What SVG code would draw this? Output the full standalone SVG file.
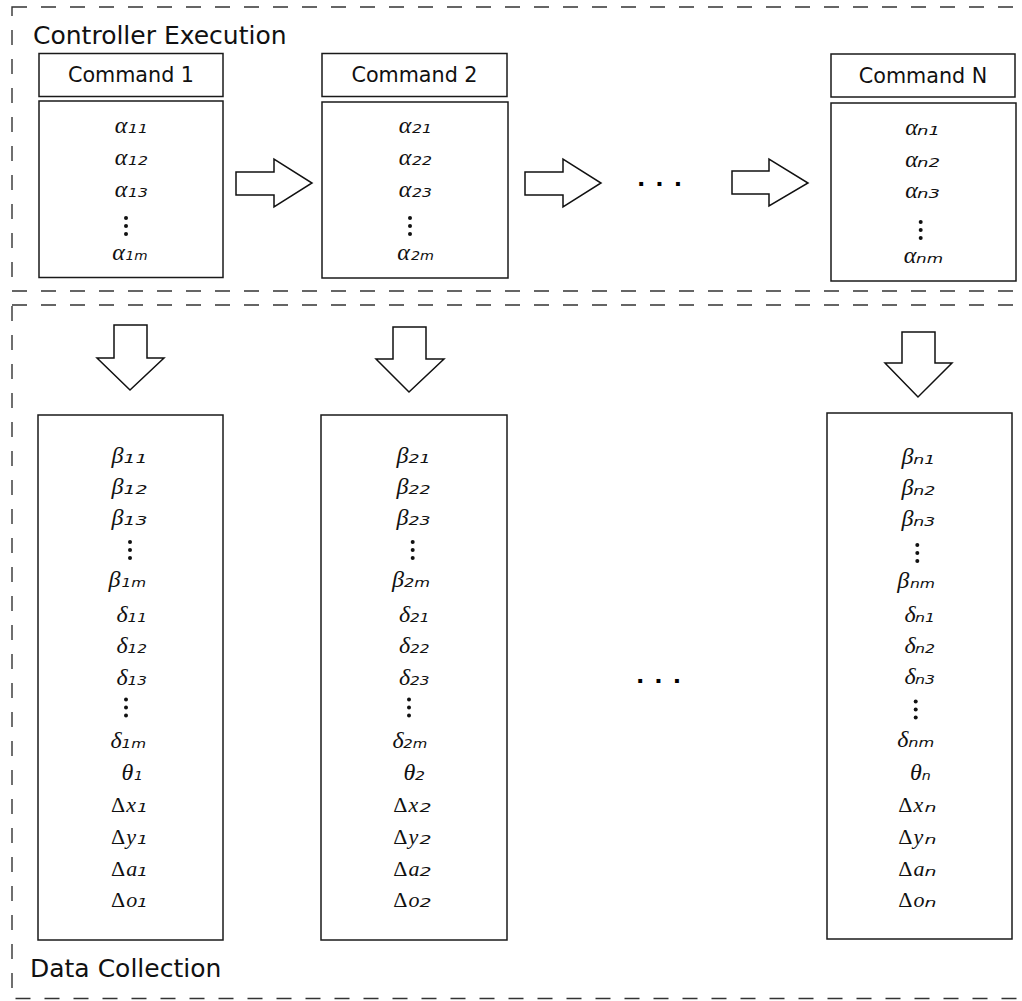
<svg xmlns="http://www.w3.org/2000/svg" xmlns:xlink="http://www.w3.org/1999/xlink" width="1022" height="1001" viewBox="0 0 1022 1001">
  <style>
    .dash { fill: none; stroke: #333; stroke-width: 1.4; stroke-dasharray: 15 14; }
    .box { fill: #fff; stroke: #1a1a1a; stroke-width: 1.5; }
    .arrow { fill: #fff; stroke: #111; stroke-width: 1.5; stroke-linejoin: miter; }
    .title { font-family: "DejaVu Sans", sans-serif; font-size: 25px; fill: #111; }
    .cmd { font-family: "DejaVu Sans", sans-serif; font-size: 20.7px; fill: #111; text-anchor: middle; }
    .g { font-family: "Liberation Serif", serif; font-style: italic; font-size: 24px; fill: #111; text-anchor: middle; }
    .d { font-family: "Liberation Serif", serif; font-style: italic; font-size: 22px; fill: #111; }
    .up { font-style: normal; }
    .s { font-family: "DejaVu Sans", sans-serif; font-style: oblique; font-size: 11.5px; fill: #111; }
    .ell { font-family: "DejaVu Sans", sans-serif; font-weight: bold; font-size: 22px; letter-spacing: 10px; fill: #000; }
  </style>
  <defs>
    <!-- vertical ellipsis -->
    <g id="vd" fill="#111">
      <circle cx="0" cy="-8" r="2"/>
      <circle cx="0" cy="0" r="2"/>
      <circle cx="0" cy="8" r="2"/>
    </g>
  </defs>

  <rect width="1022" height="1001" fill="#fff"/>

  <!-- stage frames -->
  <g id="stage-execution">
    <rect class="dash" x="12" y="7" width="1040" height="284"/>
    <text class="title" x="33" y="44">Controller Execution</text>
  </g>
  <g id="stage-collection">
    <rect class="dash" x="12" y="305" width="1040" height="693.5"/>
    <text class="title" x="30" y="977">Data Collection</text>
  </g>

  <!-- command headers -->
  <g id="cmd1">
    <rect class="box" x="39" y="53.5" width="184" height="43"/>
    <text class="cmd" x="131" y="81.5">Command 1</text>
  </g>
  <g id="cmd2">
    <rect class="box" x="322" y="53.5" width="185" height="43"/>
    <text class="cmd" x="414.5" y="81.5">Command 2</text>
  </g>
  <g id="cmdN">
    <rect class="box" x="831" y="54" width="184" height="43"/>
    <text class="cmd" x="923" y="82.5">Command N</text>
  </g>

  <!-- command parameters -->
  <g id="params1">
    <rect class="box" x="39" y="101" width="184" height="176.5"/>
    <text class="g" x="121" y="133">α</text><text class="s" x="128" y="133" textLength="20" lengthAdjust="spacingAndGlyphs">11</text>
    <text class="g" x="121" y="165">α</text><text class="s" x="128" y="165" textLength="20" lengthAdjust="spacingAndGlyphs">12</text>
    <text class="g" x="121" y="197">α</text><text class="s" x="128" y="197" textLength="20" lengthAdjust="spacingAndGlyphs">13</text>
    <use xlink:href="#vd" x="126" y="226"/>
    <text class="g" x="118.5" y="260">α</text><text class="s" x="125.5" y="260" textLength="22" lengthAdjust="spacingAndGlyphs">1m</text>
  </g>
  <g id="params2">
    <rect class="box" x="322" y="102" width="186" height="176"/>
    <text class="g" x="405" y="133">α</text><text class="s" x="412" y="133" textLength="20" lengthAdjust="spacingAndGlyphs">21</text>
    <text class="g" x="405" y="165">α</text><text class="s" x="412" y="165" textLength="20" lengthAdjust="spacingAndGlyphs">22</text>
    <text class="g" x="405" y="197">α</text><text class="s" x="412" y="197" textLength="20" lengthAdjust="spacingAndGlyphs">23</text>
    <use xlink:href="#vd" x="410" y="226"/>
    <text class="g" x="403.5" y="260">α</text><text class="s" x="411" y="260" textLength="23" lengthAdjust="spacingAndGlyphs">2m</text>
  </g>
  <g id="paramsN">
    <rect class="box" x="831" y="103" width="185" height="178"/>
    <text class="g" x="911.5" y="135">α</text><text class="s" x="917" y="135" textLength="23" lengthAdjust="spacingAndGlyphs">n1</text>
    <text class="g" x="911.5" y="167">α</text><text class="s" x="917" y="167" textLength="23" lengthAdjust="spacingAndGlyphs">n2</text>
    <text class="g" x="911.5" y="198">α</text><text class="s" x="917" y="198" textLength="23" lengthAdjust="spacingAndGlyphs">n3</text>
    <use xlink:href="#vd" x="920.7" y="230"/>
    <text class="g" x="910" y="263">α</text><text class="s" x="916" y="263" textLength="27" lengthAdjust="spacingAndGlyphs">nm</text>
  </g>

  <!-- collected data -->
  <g id="data1">
    <rect class="box" x="38" y="415" width="185" height="525"/>
    <text class="g" x="117.5" y="463">β</text><text class="s" x="123.5" y="463" textLength="24" lengthAdjust="spacingAndGlyphs">11</text>
    <text class="g" x="117.5" y="494">β</text><text class="s" x="123.5" y="494" textLength="24" lengthAdjust="spacingAndGlyphs">12</text>
    <text class="g" x="117.5" y="525">β</text><text class="s" x="123.5" y="525" textLength="24" lengthAdjust="spacingAndGlyphs">13</text>
    <use xlink:href="#vd" x="130" y="550"/>
    <text class="g" x="114.5" y="587">β</text><text class="s" x="121.5" y="587" textLength="24.5" lengthAdjust="spacingAndGlyphs">1m</text>
    <text class="g" x="122" y="622">δ</text><text class="s" x="127.5" y="622" textLength="19.5" lengthAdjust="spacingAndGlyphs">11</text>
    <text class="g" x="122" y="653">δ</text><text class="s" x="127.5" y="653" textLength="19.5" lengthAdjust="spacingAndGlyphs">12</text>
    <text class="g" x="122" y="685">δ</text><text class="s" x="127.5" y="685" textLength="19.5" lengthAdjust="spacingAndGlyphs">13</text>
    <use xlink:href="#vd" x="126" y="707.5"/>
    <text class="g" x="116" y="748">δ</text><text class="s" x="121.5" y="748" textLength="24.5" lengthAdjust="spacingAndGlyphs">1m</text>
    <text class="g" x="127.5" y="780">θ</text><text class="s" x="134" y="780" textLength="9" lengthAdjust="spacingAndGlyphs">1</text>
    <text class="d" x="111" y="812"><tspan class="up">Δ</tspan><tspan dx="1">x</tspan></text><text class="s" x="137" y="812" textLength="11" lengthAdjust="spacingAndGlyphs">1</text>
    <text class="d" x="111" y="843.5"><tspan class="up">Δ</tspan><tspan dx="1">y</tspan></text><text class="s" x="137" y="843.5" textLength="11" lengthAdjust="spacingAndGlyphs">1</text>
    <text class="d" x="111" y="875.5"><tspan class="up">Δ</tspan><tspan dx="1">a</tspan></text><text class="s" x="137" y="875.5" textLength="11" lengthAdjust="spacingAndGlyphs">1</text>
    <text class="d" x="111" y="907"><tspan class="up">Δ</tspan><tspan dx="1">o</tspan></text><text class="s" x="137" y="907" textLength="11" lengthAdjust="spacingAndGlyphs">1</text>
  </g>
  <g id="data2">
    <rect class="box" x="321" y="415" width="186" height="525"/>
    <text class="g" x="402.5" y="463">β</text><text class="s" x="408.5" y="463" textLength="22" lengthAdjust="spacingAndGlyphs">21</text>
    <text class="g" x="402.5" y="494">β</text><text class="s" x="408.5" y="494" textLength="22" lengthAdjust="spacingAndGlyphs">22</text>
    <text class="g" x="402.5" y="525">β</text><text class="s" x="408.5" y="525" textLength="22" lengthAdjust="spacingAndGlyphs">23</text>
    <use xlink:href="#vd" x="412.7" y="550"/>
    <text class="g" x="398" y="587">β</text><text class="s" x="404" y="587" textLength="26" lengthAdjust="spacingAndGlyphs">2m</text>
    <text class="g" x="404.7" y="622">δ</text><text class="s" x="410" y="622" textLength="19.5" lengthAdjust="spacingAndGlyphs">21</text>
    <text class="g" x="404.7" y="653">δ</text><text class="s" x="410" y="653" textLength="19.5" lengthAdjust="spacingAndGlyphs">22</text>
    <text class="g" x="404.7" y="685">δ</text><text class="s" x="410" y="685" textLength="19.5" lengthAdjust="spacingAndGlyphs">23</text>
    <use xlink:href="#vd" x="409" y="707.5"/>
    <text class="g" x="398" y="748">δ</text><text class="s" x="403.3" y="748" textLength="24" lengthAdjust="spacingAndGlyphs">2m</text>
    <text class="g" x="409.5" y="780">θ</text><text class="s" x="415" y="780" textLength="10" lengthAdjust="spacingAndGlyphs">2</text>
    <text class="d" x="393.3" y="812"><tspan class="up">Δ</tspan><tspan dx="1">x</tspan></text><text class="s" x="419.5" y="812" textLength="12" lengthAdjust="spacingAndGlyphs">2</text>
    <text class="d" x="393.3" y="843.5"><tspan class="up">Δ</tspan><tspan dx="1">y</tspan></text><text class="s" x="419.5" y="843.5" textLength="12" lengthAdjust="spacingAndGlyphs">2</text>
    <text class="d" x="393.3" y="875.5"><tspan class="up">Δ</tspan><tspan dx="1">a</tspan></text><text class="s" x="419.5" y="875.5" textLength="12" lengthAdjust="spacingAndGlyphs">2</text>
    <text class="d" x="393.3" y="907"><tspan class="up">Δ</tspan><tspan dx="1">o</tspan></text><text class="s" x="419.5" y="907" textLength="12" lengthAdjust="spacingAndGlyphs">2</text>
  </g>
  <g id="dataN">
    <rect class="box" x="827" y="413" width="185" height="526"/>
    <text class="g" x="907.5" y="464">β</text><text class="s" x="913.3" y="464" textLength="22" lengthAdjust="spacingAndGlyphs">n1</text>
    <text class="g" x="907.5" y="495">β</text><text class="s" x="913.3" y="495" textLength="22" lengthAdjust="spacingAndGlyphs">n2</text>
    <text class="g" x="907.5" y="526">β</text><text class="s" x="913.3" y="526" textLength="22" lengthAdjust="spacingAndGlyphs">n3</text>
    <use xlink:href="#vd" x="917.3" y="553"/>
    <text class="g" x="903.3" y="588">β</text><text class="s" x="910" y="588" textLength="25" lengthAdjust="spacingAndGlyphs">nm</text>
    <text class="g" x="910" y="622">δ</text><text class="s" x="915" y="622" textLength="20" lengthAdjust="spacingAndGlyphs">n1</text>
    <text class="g" x="910" y="653">δ</text><text class="s" x="915" y="653" textLength="20" lengthAdjust="spacingAndGlyphs">n2</text>
    <text class="g" x="910" y="684">δ</text><text class="s" x="915" y="684" textLength="20" lengthAdjust="spacingAndGlyphs">n3</text>
    <use xlink:href="#vd" x="915.7" y="709.5"/>
    <text class="g" x="902.8" y="747">δ</text><text class="s" x="908.3" y="747" textLength="26" lengthAdjust="spacingAndGlyphs">nm</text>
    <text class="g" x="915.8" y="780">θ</text><text class="s" x="921.7" y="780" textLength="9" lengthAdjust="spacingAndGlyphs">n</text>
    <text class="d" x="898.3" y="812"><tspan class="up">Δ</tspan><tspan dx="1">x</tspan></text><text class="s" x="924.5" y="812" textLength="12" lengthAdjust="spacingAndGlyphs">n</text>
    <text class="d" x="898.3" y="843.5"><tspan class="up">Δ</tspan><tspan dx="1">y</tspan></text><text class="s" x="924.5" y="843.5" textLength="12" lengthAdjust="spacingAndGlyphs">n</text>
    <text class="d" x="898.3" y="875.5"><tspan class="up">Δ</tspan><tspan dx="1">a</tspan></text><text class="s" x="924.5" y="875.5" textLength="12" lengthAdjust="spacingAndGlyphs">n</text>
    <text class="d" x="898.3" y="907"><tspan class="up">Δ</tspan><tspan dx="1">o</tspan></text><text class="s" x="924.5" y="907" textLength="12" lengthAdjust="spacingAndGlyphs">n</text>
  </g>

  <!-- elided commands -->
  <g id="ellipsis-exec">
    <text class="ell" x="637" y="186">...</text>
  </g>
  <g id="ellipsis-data">
    <text class="ell" x="636" y="683">...</text>
  </g>

  <!-- block arrows -->
  <g id="connectors">
    <path class="arrow" d="M236,172 H274 V159 L312,183 L274,207 V195 H236 Z"/>
    <path class="arrow" d="M525,172 H563 V159 L601,183 L563,207 V195 H525 Z"/>
    <path class="arrow" d="M732,171 H769 V159 L808,183 L769,206 V194 H732 Z"/>
    <path class="arrow" d="M114,325 H147 V358 H164 L130,390 L97,358 H114 Z"/>
    <path class="arrow" d="M393,327 H426 V359 H444 L409,392 L376,359 H393 Z"/>
    <path class="arrow" d="M902,332 H935 V363 H952 L918,397 L885,363 H902 Z"/>
  </g>
</svg>
